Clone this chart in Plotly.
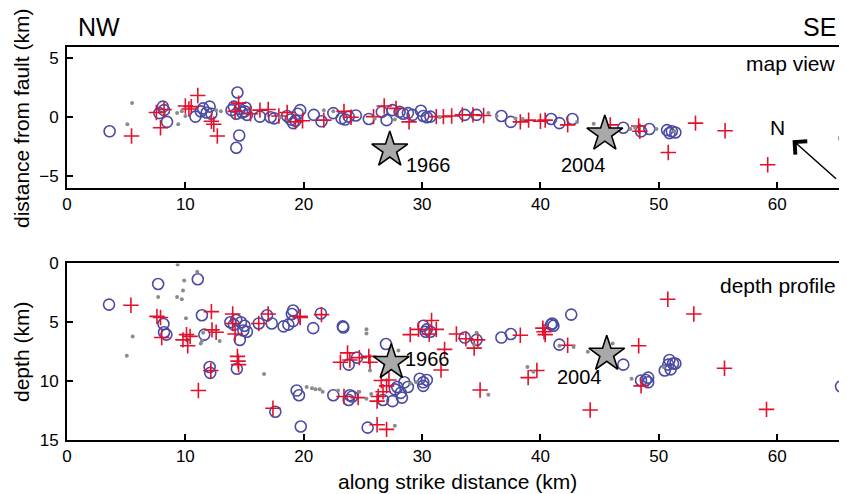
import plotly.graph_objects as go

# ---------------- map view (top) ----------------
map_circ_x = [3.6, 7.8, 8.1, 8.2, 8.45, 10.85, 11.3, 11.5, 11.8, 12.05, 12.2, 14.4, 14.55, 14.3,
              13.9, 14.1, 14.3, 14.6, 14.8, 15.1, 15.2, 15.0, 16.3, 17.2, 17.5, 18.6, 18.9, 19.1,
              19.3, 19.7, 19.5, 20.85, 21.5, 22.5, 23.2, 23.5, 23.8, 24.4, 25.5, 26.6, 27.0, 27.5,
              28.1, 28.4, 28.8, 29.2, 29.9, 30.1, 30.4, 30.7, 33.6, 34.6, 36.7, 37.5, 40.9, 41.6,
              42.7, 47.0, 48.5, 49.2, 50.7, 50.9, 51.1, 51.4, 65.7]
map_circ_y = [-1.2, 0.35, 0.9, 0.6, -0.4, 0.05, 0.5, 0.75, 0.4, 0.9, 0.3, 2.1, -1.55, -2.6,
              0.6, 0.9, 0.3, 0.7, 0.4, 0.8, 0.2, 0.5, 0.05, 0.0, -0.1, 0.1, -0.2, -0.5,
              -0.3, 0.6, 0.3, 0.2, -0.35, 0.35, -0.1, -0.2, 0.05, 0.15, -0.15, 0.45, -0.25, 0.6,
              0.45, 0.3, 0.35, 0.2, 0.55, 0.1, 0.0, 0.05, 0.2, 0.2, 0.1, -0.4, -0.15, -0.5,
              -0.15, -0.9, -1.2, -1.0, -1.1, -1.35, -1.2, -1.3, -1.8]

map_plus_x = [5.45, 7.55, 7.9, 8.2, 10.0, 10.3, 10.5, 11.05, 12.2, 12.4, 12.7, 14.2, 14.5, 15.5,
              16.3, 17.0, 17.9, 18.6, 19.3, 19.9, 21.7, 23.4, 24.0, 25.9, 26.8, 27.8, 28.9, 31.2,
              31.8, 32.5, 33.4, 34.3, 35.2, 38.3, 39.0, 40.0, 40.4, 42.3, 45.9, 48.3, 48.4, 50.8,
              53.1, 55.6, 59.2]
map_plus_y = [-1.6, 0.4, -0.9, 0.65, 0.95, 0.7, 0.9, 1.85, -0.35, -0.6, -1.6, 0.5, 1.2, 0.3,
              0.6, 0.65, 0.1, 0.4, -0.4, -0.3, -0.25, 0.5, 0.0, 0.05, 0.95, 0.75, -0.4, 0.05,
              0.05, 0.1, 0.2, 0.2, 0.15, -0.4, -0.25, -0.35, -0.25, -0.65, -0.65, -0.75, -1.2, -3.0,
              -0.5, -1.15, -4.05]

map_dot_x = [5.1, 5.5, 9.3, 9.7, 9.4, 10.0, 12.6, 13.0, 18.0, 21.7, 22.5, 26.0, 27.7, 31.5,
             35.6, 36.3, 37.9, 38.5, 43.1, 44.5, 47.6, 48.0, 49.8, 51.3, 65.5]
map_dot_y = [-0.6, 1.2, 0.35, 0.5, -0.6, 0.1, 0.6, 0.5, 0.0, 0.6, 0.5, -0.1, -0.2, 0.0,
             0.35, 0.1, -0.1, -0.15, -0.4, -0.55, -1.0, -0.9, -1.0, -1.2, -1.7]

# ---------------- depth profile (bottom) ----------------
dep_circ_x = [3.55, 7.7, 11.05, 8.15, 8.2, 8.4, 11.4, 11.6, 12.05, 12.1, 13.8, 14.1, 14.3, 14.7,
              15.0, 14.9, 15.2, 14.6, 14.35, 16.2, 16.9, 17.3, 18.3, 18.7, 19.1, 19.1, 19.0, 17.6,
              19.4, 19.6, 19.75, 20.8, 21.45, 23.3, 23.35, 26.95, 24.5, 23.8, 22.5, 23.9, 24.1, 23.8,
              26.7, 27.5, 27.9, 28.2, 28.5, 28.8, 28.3, 27.7, 29.8, 30.1, 30.4, 30.1, 30.1, 30.4,
              30.7, 30.3, 33.6, 34.6, 36.7, 37.5, 40.9, 41.0, 41.1, 42.6, 41.6, 47.0, 48.5, 48.9,
              49.1, 49.1, 50.5, 50.8, 50.9, 51.2, 51.4, 51.0, 25.4, 65.4]
dep_circ_d = [3.5, 1.75, 1.35, 5.15, 5.85, 6.05, 4.4, 6.05, 8.8, 9.3, 5.0, 5.2, 4.8, 5.0,
              5.3, 5.7, 5.8, 6.5, 8.95, 5.1, 4.4, 5.1, 5.35, 5.2, 4.9, 4.0, 4.3, 12.6,
              10.8, 11.2, 13.85, 5.5, 4.25, 5.35, 5.45, 6.85, 8.0, 8.6, 11.2, 11.2, 11.3, 11.6,
              11.6, 11.7, 10.5, 11.0, 10.1, 10.5, 11.4, 10.7, 9.8, 10.1, 9.9, 10.4, 5.3, 5.6,
              5.8, 5.8, 6.3, 6.5, 6.3, 6.0, 5.2, 5.1, 5.3, 4.35, 6.9, 8.6, 9.95, 9.9,
              9.7, 10.1, 9.1, 8.6, 8.2, 8.5, 8.5, 9.0, 13.95, 10.45]

dep_plus_x = [5.4, 7.6, 7.9, 8.0, 9.8, 10.1, 10.4, 10.2, 11.1, 12.2, 12.25, 12.6, 12.15, 14.0,
              14.0, 14.2, 14.4, 14.45, 14.5, 16.2, 17.0, 17.4, 19.7, 19.7, 21.5, 23.7, 23.1, 23.9,
              24.7, 25.5, 25.6, 26.55, 27.2, 27.0, 26.7, 26.3, 26.2, 23.4, 24.6, 29.0, 29.7, 30.8,
              31.2, 30.6, 31.9, 31.6, 32.9, 33.7, 34.4, 34.7, 34.9, 38.3, 40.2, 40.3, 40.4, 38.96,
              39.7, 42.3, 48.3, 48.5, 50.76, 52.96, 55.55, 44.2, 59.1, 26.2, 27.0]
dep_plus_d = [3.55, 4.5, 4.6, 6.3, 6.5, 6.05, 6.2, 7.0, 10.8, 4.1, 5.65, 5.85, 9.1, 4.3,
              5.1, 6.0, 7.9, 8.3, 8.6, 5.1, 4.3, 12.3, 4.5, 4.6, 4.35, 7.6, 8.4, 8.2,
              8.0, 7.9, 8.4, 9.95, 9.9, 10.4, 10.9, 11.3, 11.7, 11.3, 11.4, 6.05, 5.6, 4.85,
              5.6, 6.0, 7.3, 9.05, 6.0, 6.4, 7.2, 6.5, 10.75, 6.1, 5.5, 5.8, 6.05, 9.7,
              9.1, 6.95, 7.0, 10.4, 3.05, 4.3, 8.9, 12.45, 12.4, 13.7, 14.1]

dep_dot_x = [9.35, 11.0, 9.9, 9.8, 9.3, 9.7, 7.7, 10.05, 5.55, 5.05, 11.5, 11.4, 11.3, 12.9,
             16.65, 20.25, 20.7, 25.3, 25.3, 25.6, 28.0, 21.0, 21.35, 21.6, 22.9, 24.7, 25.3, 25.7,
             29.0, 29.5, 34.6, 34.4, 35.6, 38.9, 39.4, 41.6, 42.8, 44.0, 46.1, 47.7, 50.4, 27.7]
dep_dot_d = [0.1, 0.7, 1.45, 2.3, 2.85, 3.05, 2.85, 4.65, 6.2, 7.85, 5.9, 6.6, 6.8, 6.6,
             9.4, 10.5, 10.6, 5.6, 5.95, 9.1, 7.4, 10.7, 10.7, 10.9, 10.8, 10.9, 11.5, 11.1,
             10.2, 10.1, 5.9, 6.9, 11.15, 8.8, 9.2, 7.0, 7.1, 7.5, 6.8, 9.8, 8.8, 13.8]

# main shocks
quake_labels = ["1966", "2004"]
quake_x_map = [27.27, 45.44]
quake_y_map = [-2.78, -1.42]
quake_x_dep = [27.4, 45.6]
quake_d_dep = [8.4, 7.7]
label_x_map = [30.5, 43.6]
label_y_map = [-4.1, -4.05]
label_x_dep = [30.45, 43.3]
label_d_dep = [8.1, 9.65]

x_ticks = [0, 10, 20, 30, 40, 50, 60]
map_y_ticks = [-5, 0, 5]
dep_y_ticks = [0, 5, 10, 15]

BLUE = "#4b4ba3"
RED = "#e3102b"
GRAY = "#8c8c8c"
FONT = "Liberation Sans, Arial, sans-serif"

fig = go.Figure()

def add_panel(xa, ya, cx, cy, px, py, dx, dy, qx, qy):
    fig.add_trace(go.Scatter(x=cx, y=cy, mode="markers", xaxis=xa, yaxis=ya,
                             marker=dict(symbol="circle-open", size=11, color=BLUE,
                                         line=dict(width=1.6, color=BLUE)),
                             showlegend=False, hoverinfo="skip"))
    fig.add_trace(go.Scatter(x=px, y=py, mode="markers", xaxis=xa, yaxis=ya,
                             marker=dict(symbol="cross-thin-open", size=11, color=RED,
                                         line=dict(width=1.6, color=RED)),
                             showlegend=False, hoverinfo="skip"))
    fig.add_trace(go.Scatter(x=dx, y=dy, mode="markers", xaxis=xa, yaxis=ya,
                             marker=dict(symbol="circle", size=4, color=GRAY),
                             showlegend=False, hoverinfo="skip"))
    fig.add_trace(go.Scatter(x=qx, y=qy, mode="markers", xaxis=xa, yaxis=ya,
                             marker=dict(symbol="star", size=27, color="#a9a9a9",
                                         line=dict(width=1.6, color="black")),
                             showlegend=False, hoverinfo="skip"))

add_panel("x", "y", map_circ_x, map_circ_y, map_plus_x, map_plus_y,
          map_dot_x, map_dot_y, quake_x_map, quake_y_map)
add_panel("x2", "y2", dep_circ_x, dep_circ_d, dep_plus_x, dep_plus_d,
          dep_dot_x, dep_dot_d, quake_x_dep, quake_d_dep)

axis_common = dict(showline=True, linewidth=2, linecolor="black", ticks="inside",
                   ticklen=6, tickwidth=1.5, tickcolor="black", showgrid=False,
                   zeroline=False, automargin=False,
                   tickfont=dict(size=17, color="black", family=FONT))

# page body has an 8px offset; the figure fills the rest of the window
W, H = 839, 486

fig.update_layout(
    width=W, height=H,
    margin=dict(l=59, r=0, t=0, b=0, autoexpand=False),
    plot_bgcolor="white", paper_bgcolor="white",
    font=dict(family=FONT, color="black"),
    xaxis=dict(range=[0, 65.9], domain=[0, 1], anchor="y", mirror=True,
               tickvals=x_ticks, **axis_common),
    yaxis=dict(range=[-6, 6], domain=[0.6302, 0.9204], anchor="x",
               tickvals=map_y_ticks, ticklabelstandoff=3, **axis_common),
    xaxis2=dict(range=[0, 65.9], domain=[0, 1], anchor="y2", mirror=True,
                tickvals=x_ticks, **axis_common),
    yaxis2=dict(range=[15, 0], domain=[0.1111, 0.4745], anchor="x2",
                tickvals=dep_y_ticks, ticklabelstandoff=3, **axis_common),
)

ann = []
for i, t in enumerate(quake_labels):
    ann.append(dict(x=label_x_map[i], y=label_y_map[i], xref="x", yref="y", text=t,
                    showarrow=False, font=dict(size=20)))
    ann.append(dict(x=label_x_dep[i], y=label_d_dep[i], xref="x2", yref="y2", text=t,
                    showarrow=False, font=dict(size=20)))

ann += [
    dict(x=0.012, y=0.9599, xref="paper", yref="paper", text="NW", showarrow=False,
         xanchor="left", yanchor="middle", font=dict(size=25)),
    dict(x=0.989, y=0.9599, xref="paper", yref="paper", text="SE", showarrow=False,
         xanchor="right", yanchor="middle", font=dict(size=25)),
    dict(x=0.989, y=0.8848, xref="paper", yref="paper", text="map view",
         showarrow=False, xanchor="right", yanchor="middle", font=dict(size=21)),
    dict(x=0.989, y=0.430, xref="paper", yref="paper", text="depth profile",
         showarrow=False, xanchor="right", yanchor="middle", font=dict(size=21)),
    dict(x=60.05, y=-0.85, xref="x", yref="y", text="N", showarrow=False,
         font=dict(size=21)),
    dict(x=61.3, y=-1.95, xref="x", yref="y", text="", showarrow=True,
         ax=45, ay=40, arrowhead=4, arrowsize=2.3, arrowwidth=1.5, arrowcolor="black"),
    dict(x=-0.0577, y=0.7737, xref="paper", yref="paper",
         text="distance from fault (km)", textangle=-90, showarrow=False,
         xanchor="center", yanchor="middle", font=dict(size=21)),
    dict(x=-0.0577, y=0.2922, xref="paper", yref="paper",
         text="depth (km)", textangle=-90, showarrow=False,
         xanchor="center", yanchor="middle", font=dict(size=21)),
    dict(x=0.5, y=0.0267, xref="paper", yref="paper",
         text="along strike distance (km)", showarrow=False,
         xanchor="center", yanchor="middle", font=dict(size=21)),
]
fig.update_layout(annotations=ann)

fig.write_html("out.html")
